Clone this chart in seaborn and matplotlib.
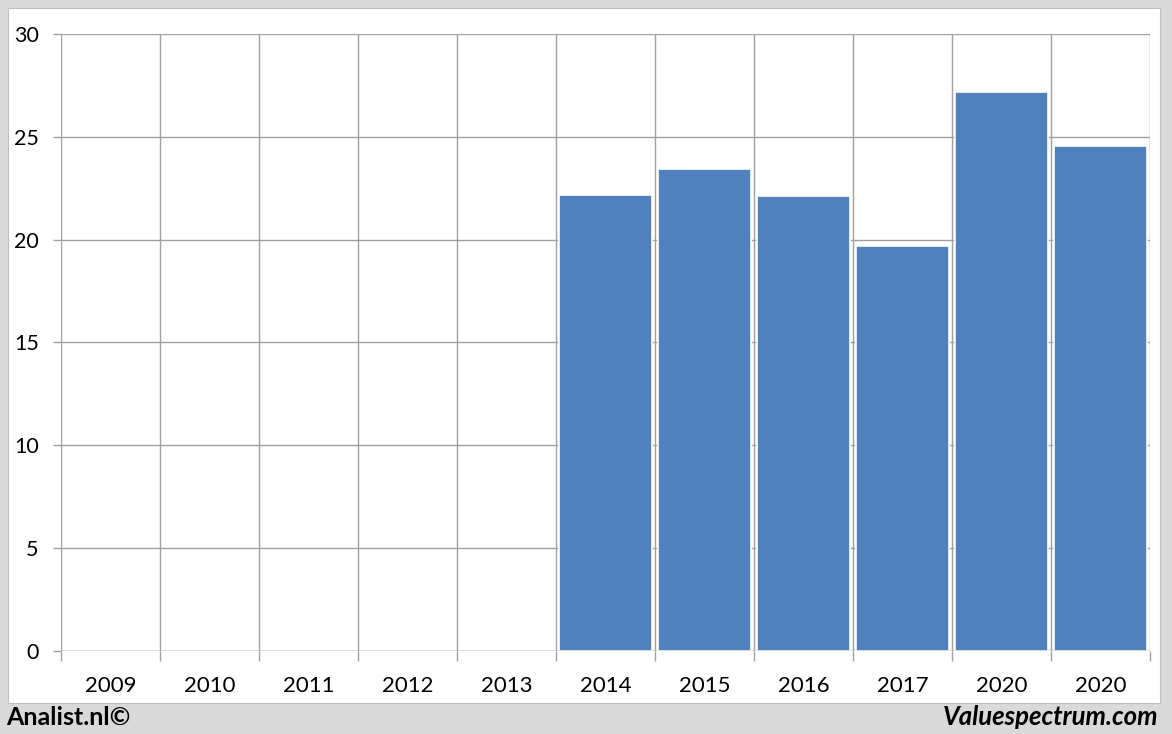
import numpy as np
import pandas as pd
import matplotlib
matplotlib.use("Agg")
import matplotlib.pyplot as plt
import seaborn as sns
from matplotlib.patches import Rectangle

years = ["2009", "2010", "2011", "2012", "2013", "2014", "2015", "2016", "2017", "2020", "2020"]
values = [np.nan, np.nan, np.nan, np.nan, np.nan, 22.17, 23.42, 22.12, 19.70, 27.16, 24.54]
yticks = [0, 5, 10, 15, 20, 25, 30]

sns.set_theme(style="white")
plt.rcParams["font.family"] = ["Lato", "DejaVu Sans"]

df = pd.DataFrame({"pos": list(range(len(years))), "value": values})

W, H = 1172, 734
fig = plt.figure(figsize=(W / 100, H / 100), dpi=100)
fig.patch.set_facecolor("#d9d9d9")
fig.add_artist(Rectangle((8 / W, (H - 703) / H), (1160 - 8) / W, (703 - 8) / H,
                         transform=fig.transFigure, facecolor="white",
                         edgecolor="#bfbfbf", linewidth=0.8, zorder=0))

ax = fig.add_axes([61 / W, (H - 651) / H, (1150 - 61) / W, (651 - 34) / H])
ax.set_facecolor("white")

sns.barplot(data=df, x="pos", y="value", order=list(range(len(years))),
            color="#4f81bd", saturation=1, width=0.94, edgecolor="white",
            linewidth=1.2, ax=ax, zorder=3)

ax.set_xlim(-0.5, len(years) - 0.5)
ax.set_ylim(0, 30)
ax.set_yticks(yticks)
ax.set_yticklabels([str(t) for t in yticks], fontsize=15.5, color="black")

# category labels centred, ticks/grid on boundaries
ax.set_xticks(np.arange(len(years)))
ax.set_xticklabels(years, fontsize=16, color="black")
ax.set_xticks(np.arange(-0.5, len(years) + 0.5, 1), minor=True)
ax.tick_params(axis="x", which="major", length=0, pad=18)
ax.tick_params(axis="x", which="minor", length=7, width=1, color="#a0a0a0", bottom=True)
ax.tick_params(axis="y", which="major", length=6, width=1, color="#a0a0a0", left=True, pad=10)

ax.grid(False)
for t in yticks:
    ax.axhline(t, color="#a0a0a0", linewidth=1, zorder=1)
ax.axhline(0, color="#a0a0a0", linewidth=1, zorder=4)
for b in np.arange(-0.5, len(years) + 0.5, 1):
    ax.axvline(b, color="#a0a0a0", linewidth=1, zorder=1)

for s in ax.spines.values():
    s.set_visible(False)
ax.set_xlabel("")
ax.set_ylabel("")

fig.text(6 / W, (H - 717) / H, "Analist.nl©", fontsize=18, fontweight="bold",
         ha="left", va="center", color="black")
fig.text(1158 / W, (H - 717) / H, "Valuespectrum.com", fontsize=18.5, fontweight="bold",
         style="italic", ha="right", va="center", color="black")

fig.savefig("out.png", dpi=100, facecolor=fig.get_facecolor())
